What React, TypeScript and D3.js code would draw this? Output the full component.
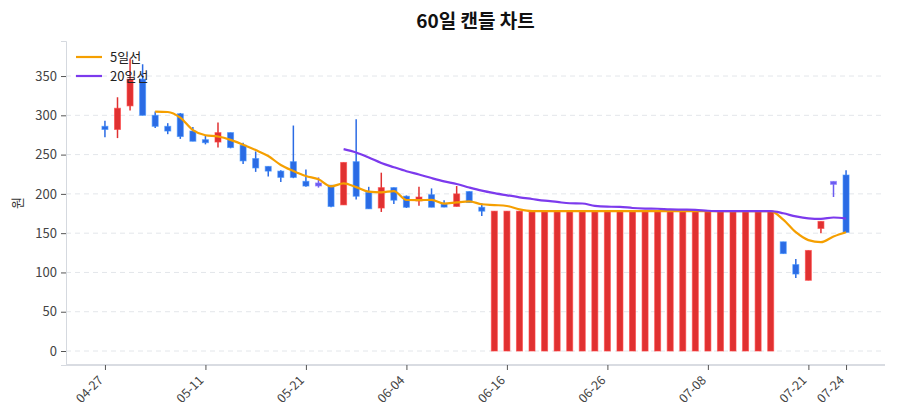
import React, { useEffect, useRef } from 'react';
import * as d3 from 'd3';

// 60 trading days, index 0..59
const opens = [
  286, 282, 312, 346, 300, 286, 302, 280, 269, 266,
  278, 262, 245, 235, 229, 241, 216, 212, 211, 186,
  241, 202, 182, 208, 197, 191, 199, 187, 184, 203,
  183, 0, 0, 0, 0, 0, 0, 0, 0, 0,
  0, 0, 0, 0, 0, 0, 0, 0, 0, 0,
  0, 0, 0, 0, 139, 110, 90, 156, 214, 224,
];
const highs = [
  293, 323, 372, 365, 305, 290, 303, 285, 274, 291,
  278, 265, 254, 235, 230, 287, 231, 221, 211, 240,
  295, 209, 227, 208, 198, 209, 207, 192, 210, 203,
  188, 178, 178, 178, 178, 178, 178, 178, 178, 178,
  178, 178, 178, 178, 178, 178, 178, 178, 178, 178,
  178, 178, 178, 178, 139, 117, 128, 165, 216, 230,
];
const lows = [
  272, 271, 306, 300, 284, 276, 270, 267, 263, 259,
  258, 238, 228, 222, 215, 220, 209, 208, 183, 186,
  193, 181, 177, 187, 182, 185, 183, 183, 184, 189,
  172, 0, 0, 0, 0, 0, 0, 0, 0, 0,
  0, 0, 0, 0, 0, 0, 0, 0, 0, 0,
  0, 0, 0, 0, 124, 93, 90, 150, 196, 151,
];
const closes = [
  282, 309, 346, 300, 286, 280, 273, 267, 267, 278,
  259, 242, 233, 229, 221, 221, 210, 212, 184, 240,
  197, 181, 208, 192, 183, 196, 183, 184, 200, 189,
  178, 178, 178, 178, 178, 178, 178, 178, 178, 178,
  178, 178, 178, 178, 178, 178, 178, 178, 178, 178,
  178, 178, 178, 178, 124, 98, 128, 165, 214, 151,
];

const tickIndex = [0, 8, 16, 24, 32, 40, 48, 56, 59];
const tickLabels = ['04-27', '05-11', '05-21', '06-04', '06-16', '06-26', '07-08', '07-21', '07-24'];
const yTicks = [0, 50, 100, 150, 200, 250, 300, 350];

const maSeries = [
  { label: '5일선', period: 5, color: '#f59f00' },
  { label: '20일선', period: 20, color: '#7c3aed' },
];

const UP = '#e03131';
const DOWN = '#2b6be4';
const FLAT = '#6b5cf0';

const movingAverage = (vals: number[], n: number) =>
  vals.map((_, i) => (i < n - 1 ? null : d3.mean(vals.slice(i - n + 1, i + 1)) as number));

const App: React.FC = () => {
  const svgRef = useRef<SVGSVGElement>(null);

  useEffect(() => {
    document.body.style.margin = '0';
    const font = '"Noto Sans CJK KR", "Noto Sans", sans-serif';
    const left = 66, right = 885, top = 41, bottom = 365;

    const svg = d3.select(svgRef.current);
    svg.selectAll('*').remove();
    svg.attr('width', 900).attr('height', 420).style('font-family', font);

    const x = d3.scaleLinear().domain([-3.1, 62.1]).range([left, right]);
    const y = d3.scaleLinear().domain([-17.8, 394.6]).range([bottom, top]);

    // gridlines
    svg.append('g')
      .selectAll('line')
      .data(yTicks)
      .enter().append('line')
      .attr('x1', left).attr('x2', right)
      .attr('y1', d => y(d)).attr('y2', d => y(d))
      .attr('stroke', '#e3e6ea')
      .attr('stroke-dasharray', '5,4');

    // y axis
    const yAxis = svg.append('g')
      .attr('transform', `translate(${left},0)`)
      .call(d3.axisLeft(y).tickValues(yTicks).tickSize(5).tickPadding(4) as any);
    yAxis.attr('font-size', null).attr('font-family', null);
    yAxis.select('.domain').attr('stroke', '#d5d9df');
    yAxis.selectAll('.tick line').attr('stroke', '#555');
    yAxis.selectAll('.tick text').attr('fill', '#444').style('font-size', '13px');

    // x axis
    const xAxis = svg.append('g')
      .attr('transform', `translate(0,${bottom})`)
      .call(d3.axisBottom(x)
        .tickValues(tickIndex)
        .tickFormat((_, i) => tickLabels[i])
        .tickSize(5)
        .tickSizeOuter(0) as any);
    xAxis.attr('font-size', null).attr('font-family', null);
    xAxis.select('.domain').attr('stroke', '#d9dce2').attr('stroke-width', 2)
      .attr('d', `M${left},0H${right}`);
    xAxis.selectAll('.tick line').attr('stroke', '#555');
    xAxis.selectAll('.tick text')
      .attr('fill', '#444')
      .style('font-size', '12.5px')
      .attr('text-anchor', 'end')
      .attr('y', 0)
      .attr('dy', '0')
      .attr('transform', 'translate(-1.5,16) rotate(-45)');

    // candles
    const idx = d3.range(closes.length);
    const colorOf = (i: number) => closes[i] > opens[i] ? UP : closes[i] < opens[i] ? DOWN : FLAT;
    const bodyW = 6;
    const candles = svg.append('g');
    candles.selectAll('line')
      .data(idx)
      .enter().append('line')
      .attr('x1', i => x(i)).attr('x2', i => x(i))
      .attr('y1', i => y(highs[i])).attr('y2', i => y(lows[i]))
      .attr('stroke', i => colorOf(i))
      .attr('stroke-width', 1.5);
    candles.selectAll('rect')
      .data(idx)
      .enter().append('rect')
      .attr('x', i => x(i) - bodyW / 2)
      .attr('width', bodyW)
      .attr('y', i => Math.min(y(opens[i]), y(closes[i])) - (opens[i] === closes[i] ? 1.5 : 0))
      .attr('height', i => Math.max(3, Math.abs(y(opens[i]) - y(closes[i]))))
      .attr('fill', i => colorOf(i))
      .attr('stroke', i => d3.color(colorOf(i))!.brighter(0.8).formatRgb())
      .attr('stroke-opacity', 0.6)
      .attr('stroke-width', 1);

    // moving averages
    maSeries.forEach(s => {
      const ma = movingAverage(closes, s.period);
      const line = d3.line<number | null>()
        .defined(d => d !== null)
        .x((_, i) => x(i))
        .y(d => y(d as number))
        .curve(d3.curveMonotoneX);
      svg.append('path')
        .datum(ma)
        .attr('d', line)
        .attr('fill', 'none')
        .attr('stroke', s.color)
        .attr('stroke-width', 2.2);
    });

    // legend
    const legend = svg.append('g').attr('transform', 'translate(76,57)');
    maSeries.forEach((s, i) => {
      legend.append('line')
        .attr('x1', 0).attr('x2', 26)
        .attr('y1', i * 19).attr('y2', i * 19)
        .attr('stroke', s.color).attr('stroke-width', 2.2);
      legend.append('text')
        .attr('x', 34).attr('y', i * 19 + 4.5)
        .style('font-size', '13px')
        .attr('fill', '#222')
        .text(s.label);
    });

    // y label
    svg.append('text')
      .attr('transform', `translate(22,${(top + bottom) / 2}) rotate(-90)`)
      .attr('text-anchor', 'middle')
      .style('font-size', '13px')
      .attr('fill', '#333')
      .text('원');

    // title
    svg.append('text')
      .attr('x', (left + right) / 2)
      .attr('y', 28)
      .attr('text-anchor', 'middle')
      .style('font-size', '19px')
      .style('font-weight', 'bold')
      .attr('fill', '#111')
      .text('60일 캔들 차트');
  }, []);

  return <svg ref={svgRef}></svg>;
};

export default App;
